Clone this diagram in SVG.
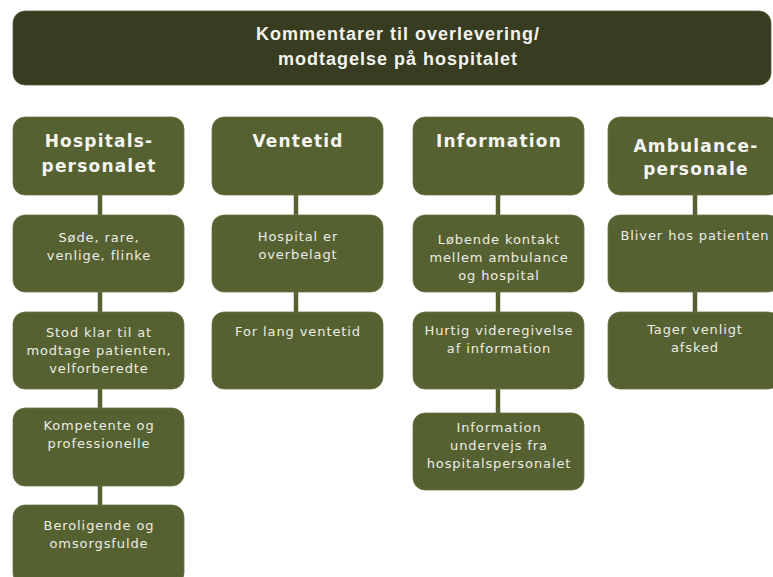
<svg xmlns="http://www.w3.org/2000/svg" width="773" height="577" viewBox="0 0 773 577">
<style>
.box{fill:#566131;stroke:#6b7545;stroke-width:0.8}
.title-box{fill:#383d21;stroke:#555a40;stroke-width:0.8}
.conn line{stroke:#566131;stroke-width:4.5}
.tt{font-family:"Liberation Sans",Arial,sans-serif;font-weight:bold;font-size:18px;letter-spacing:1px;fill:#f2f2ee;text-anchor:middle}
.hd{font-family:"DejaVu Sans",sans-serif;font-weight:bold;font-size:17px;letter-spacing:1.2px;fill:#f4f4f0;text-anchor:middle}
.bd{font-family:"DejaVu Sans",sans-serif;font-size:13px;letter-spacing:0.9px;fill:#ecece4;text-anchor:middle}
</style>
<rect width="773" height="577" fill="#ffffff"/>
<g id="connectors" class="conn">
<line x1="100" y1="195" x2="100" y2="216"/>
<line x1="100" y1="291" x2="100" y2="313"/>
<line x1="100" y1="388" x2="100" y2="409"/>
<line x1="100" y1="485" x2="100" y2="506"/>
<line x1="296" y1="195" x2="296" y2="216"/>
<line x1="296" y1="291" x2="296" y2="313"/>
<line x1="498" y1="195" x2="498" y2="216"/>
<line x1="498" y1="291" x2="498" y2="313"/>
<line x1="498" y1="388" x2="498" y2="414"/>
<line x1="695" y1="195" x2="695" y2="216"/>
<line x1="695" y1="291" x2="695" y2="313"/>
</g>
<g id="title">
<rect class="title-box" x="13" y="11" width="758" height="74" rx="12"/>
<text class="tt" x="398" y="40">Kommentarer til overlevering/</text>
<text class="tt" x="398" y="65">modtagelse på hospitalet</text>
</g>
<g id="h1">
<rect class="box" x="13" y="117" width="171" height="78" rx="12"/>
<text class="hd" x="99" y="147">Hospitals-</text>
<text class="hd" x="99" y="172">personalet</text>
</g>
<g id="h2">
<rect class="box" x="212" y="117" width="171" height="78" rx="12"/>
<text class="hd" x="298" y="147">Ventetid</text>
</g>
<g id="h3">
<rect class="box" x="413" y="117" width="171" height="78" rx="12"/>
<text class="hd" x="499" y="147">Information</text>
</g>
<g id="h4">
<rect class="box" x="608" y="117" width="172" height="78" rx="12"/>
<text class="hd" x="696" y="152">Ambulance-</text>
<text class="hd" x="696" y="175">personale</text>
</g>
<g id="c1r2">
<rect class="box" x="13" y="215" width="171" height="77" rx="12"/>
<text class="bd" x="99" y="242">Søde, rare,</text>
<text class="bd" x="99" y="260">venlige, flinke</text>
</g>
<g id="c1r3">
<rect class="box" x="13" y="312" width="171" height="77" rx="12"/>
<text class="bd" x="99" y="337">Stod klar til at</text>
<text class="bd" x="99" y="355">modtage patienten,</text>
<text class="bd" x="99" y="373">velforberedte</text>
</g>
<g id="c1r4">
<rect class="box" x="13" y="408" width="171" height="78" rx="12"/>
<text class="bd" x="99" y="430">Kompetente og</text>
<text class="bd" x="99" y="448">professionelle</text>
</g>
<g id="c1r5">
<rect class="box" x="13" y="505" width="171" height="80" rx="12"/>
<text class="bd" x="99" y="530">Beroligende og</text>
<text class="bd" x="99" y="548">omsorgsfulde</text>
</g>
<g id="c2r2">
<rect class="box" x="212" y="215" width="171" height="77" rx="12"/>
<text class="bd" x="298" y="241">Hospital er</text>
<text class="bd" x="298" y="259">overbelagt</text>
</g>
<g id="c2r3">
<rect class="box" x="212" y="312" width="171" height="77" rx="12"/>
<text class="bd" x="298" y="336">For lang ventetid</text>
</g>
<g id="c3r2">
<rect class="box" x="413" y="215" width="171" height="77" rx="12"/>
<text class="bd" x="499" y="244">Løbende kontakt</text>
<text class="bd" x="499" y="262">mellem ambulance</text>
<text class="bd" x="499" y="280">og hospital</text>
</g>
<g id="c3r3">
<rect class="box" x="413" y="312" width="171" height="77" rx="12"/>
<text class="bd" x="499" y="335">Hurtig videregivelse</text>
<text class="bd" x="499" y="353">af information</text>
</g>
<g id="c3r4">
<rect class="box" x="413" y="413" width="171" height="77" rx="12"/>
<text class="bd" x="499" y="432">Information</text>
<text class="bd" x="499" y="450">undervejs fra</text>
<text class="bd" x="499" y="468">hospitalspersonalet</text>
</g>
<g id="c4r2">
<rect class="box" x="608" y="215" width="172" height="77" rx="12"/>
<text class="bd" x="695" y="240">Bliver hos patienten</text>
</g>
<g id="c4r3">
<rect class="box" x="608" y="312" width="172" height="77" rx="12"/>
<text class="bd" x="695" y="334">Tager venligt</text>
<text class="bd" x="695" y="352">afsked</text>
</g>
</svg>
